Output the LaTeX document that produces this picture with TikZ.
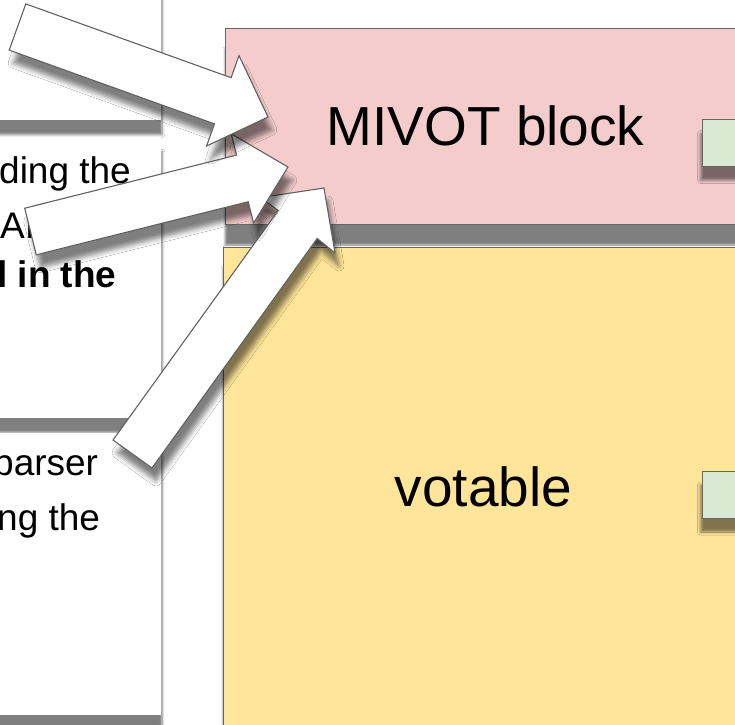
\documentclass[tikz,border=0pt]{standalone}
\usepackage{fontspec}
\setmainfont{Liberation Sans}
\usetikzlibrary{shadows.blur}
\definecolor{blockpink}{HTML}{F4CCCC}
\definecolor{blockyellow}{HTML}{FFE599}
\definecolor{blockgreen}{HTML}{D9EAD3}
\definecolor{edgegray}{HTML}{666666}
\tikzset{
  panel/.style={fill=white, inner sep=0pt, minimum width=300pt,
    blur shadow={shadow xshift=1.5pt, shadow yshift=-15pt, shadow blur radius=2.5pt, shadow opacity=50}},
  block/.style={draw=edgegray, line width=1pt, inner sep=0pt, minimum width=521pt,
    font=\fontsize{55}{60}\selectfont,
    blur shadow={shadow xshift=0pt, shadow yshift=-21pt, shadow blur radius=2pt, shadow opacity=50}},
  field/.style={draw=edgegray, line width=1pt, fill=blockgreen, anchor=west,
    minimum width=60pt, minimum height=47pt, inner sep=0pt,
    blur shadow={shadow xshift=-2pt, shadow yshift=-14pt, shadow blur radius=3pt, shadow opacity=50}},
  paneltext/.style={anchor=base west, inner sep=0pt, font=\fontsize{37}{44}\selectfont},
  blockarrow/.style={draw=black!62, line width=1.1pt, fill=white, line join=miter,
    blur shadow={shadow xshift=4pt, shadow yshift=-13pt, shadow blur radius=5pt, shadow opacity=50}}
}
\begin{document}
\begin{tikzpicture}[x=1pt, y=-1pt]
\useasboundingbox (0,0) rectangle (735,724);
\fill[white] (0,0) rectangle (735,724);
\clip (0,0) rectangle (735,724);
% left panels
\node[panel, anchor=south east, minimum height=200pt] (P1) at (161,120) {};
\node[panel, anchor=south east, minimum height=281pt] (P2) at (161,418) {};
\node[panel, anchor=south east, minimum height=282pt] (P3) at (161,715) {};
\node[paneltext] (t1) at (-1,183) {ding the};
\node[paneltext] (t2) at (0,238) {AI};
\node[paneltext] (t3) at (-3,287) {\textbf{l in the}};
\node[paneltext] (t4) at (-7,475) {parser};
\node[paneltext] (t5) at (-3,530) {ng the};
% blocks
\node[block, fill=blockpink, minimum height=196pt] (mivot) at (485.5,126) {MIVOT block};
\node[block, fill=blockyellow, minimum height=480pt] (votable) at (483.5,487) {votable};
\node[field] (f1) at (702,143) {};
\node[field] (f2) at (702,494.5) {};
% arrows
\coordinate (A1) at (25.8,3.9); \coordinate (A2) at (231.1,77.7); \coordinate (A3) at (239.0,55.6); \coordinate (A4) at (268,117);
\coordinate (A5) at (206.6,146.0); \coordinate (A6) at (214.5,123.9); \coordinate (A7) at (9.2,50.1);
\coordinate (B1) at (24.7,208.2); \coordinate (B2) at (236.6,155.1); \coordinate (B3) at (231.2,133.8); \coordinate (B4) at (288,167);
\coordinate (B5) at (253.6,223.0); \coordinate (B6) at (248.2,201.7); \coordinate (B7) at (36.3,254.8);
\coordinate (C1) at (113.0,440.0); \coordinate (C2) at (278.2,210.5); \coordinate (C3) at (260.4,197.6); \coordinate (C4) at (324,188);
\coordinate (C5) at (335,253); \coordinate (C6) at (317.2,238.5); \coordinate (C7) at (152,468);
\foreach \i in {C,B,A} \draw[blockarrow] (\i1)--(\i2)--(\i3)--(\i4)--(\i5)--(\i6)--(\i7)--cycle;
\end{tikzpicture}
\end{document}
